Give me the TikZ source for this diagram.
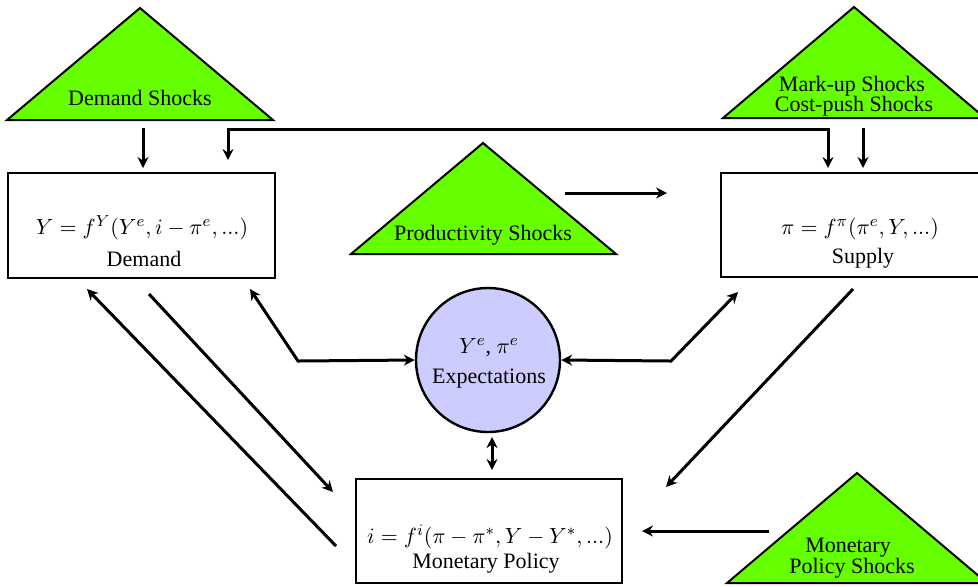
\documentclass[tikz,border=0pt]{standalone}
\usepackage{fontspec}
\setmainfont{Liberation Serif}
\usetikzlibrary{arrows.meta}
\definecolor{shockgreen}{HTML}{66FF00}
\definecolor{expblue}{HTML}{CCCCFF}
\begin{document}
\begin{tikzpicture}[x=0.5pt,y=-0.5pt,
  tri/.style={draw=black, fill=shockgreen, line width=1pt, line join=miter},
  boxnode/.style={draw=black, line width=1.2pt, inner sep=0pt},
  lbl/.style={anchor=base, inner sep=0pt, font=\rmfamily\fontsize{11}{13}\selectfont},
  conn/.style={line width=1.5pt, -{Stealth[length=5.5pt,width=5.5pt,inset=1.8pt]}},
  bconn/.style={line width=1.5pt, {Stealth[length=5.5pt,width=5.5pt,inset=1.8pt]}-{Stealth[length=5.5pt,width=5.5pt,inset=1.8pt]}}]
\useasboundingbox (0,0) rectangle (978,586);
\clip (0,0) rectangle (978,586);

% shock triangles
\draw[tri] (7,120) -- (140,8) -- (273,120) -- cycle;
\draw[tri] (351,254) -- (483,143) -- (616,254) -- cycle;
\draw[tri] (723,118) -- (854,7) -- (985,118) -- cycle;
\draw[tri] (727,583) -- (857,473) -- (987,583) -- cycle;

\node[lbl] (ds) at (140,105) {Demand Shocks};
\node[lbl] (ps) at (483,240) {Productivity Shocks};
\node[lbl] (mu1) at (852,91) {Mark-up Shocks};
\node[lbl] (mu2) at (854,111) {Cost-push Shocks};
\node[lbl] (mp1) at (848,552) {Monetary};
\node[lbl] (mp2) at (852,573) {Policy Shocks};

% boxes
\node[boxnode, minimum width=133.5pt, minimum height=52.5pt] (demand) at (141.5,225.5) {};
\node[boxnode, minimum width=141pt, minimum height=52pt] (supply) at (862,225) {};
\node[boxnode, minimum width=133pt, minimum height=52pt] (policy) at (489,531) {};
\node[draw=black, fill=expblue, circle, line width=1.2pt, minimum size=72pt, inner sep=0pt] (expect) at (488,360) {};

\node[lbl] (dq) at (142,234) {$Y=f^{Y}(Y^{e},i-\pi^{e},...)$};
\node[lbl] (dt) at (144,266) {Demand};
\node[lbl] (sq) at (860,234) {$\pi=f^{\pi}(\pi^{e},Y,...)$};
\node[lbl] (st) at (863,263) {Supply};
\node[lbl] (eq) at (489,353) {$Y^{e}$, $\pi^{e}$};
\node[lbl] (et) at (489,383) {Expectations};
\node[lbl] (pq) at (490,543) {$i=f^{i}(\pi-\pi^{*},Y-Y^{*},...)$};
\node[lbl] (pt) at (486,568) {Monetary Policy};

% connector end points
\coordinate (a1s) at (143,128); \coordinate (a1e) at (143,168);
\coordinate (l1) at (228,160); \coordinate (l2) at (228,129);
\coordinate (l3) at (828,129); \coordinate (l4) at (828,168);
\coordinate (a3s) at (863,128); \coordinate (a3e) at (863,168);
\coordinate (p1) at (565,193); \coordinate (p2) at (667,193);
\coordinate (le1) at (250,289); \coordinate (le2) at (298,361);
\coordinate (ri1) at (671,361); \coordinate (ri2) at (738,292);
\coordinate (c1) at (492,437); \coordinate (c2) at (492,470);
\coordinate (d1) at (336,546); \coordinate (d2) at (87,289);
\coordinate (d3) at (149,294); \coordinate (d4) at (333,492);
\coordinate (s1) at (853,289); \coordinate (s2) at (666,487);
\coordinate (m1) at (769,531); \coordinate (m2) at (642,531);

\draw[conn] (a1s) -- (a1e);
\draw[bconn] (l1) -- (l2) -- (l3) -- (l4);
\draw[conn] (a3s) -- (a3e);
\draw[conn] (p1) -- (p2);
\draw[bconn] (le1) -- (le2) -- (expect.west);
\draw[bconn] (expect.east) -- (ri1) -- (ri2);
\draw[bconn] (c1) -- (c2);
\draw[conn] (d1) -- (d2);
\draw[conn] (d3) -- (d4);
\draw[conn] (s1) -- (s2);
\draw[conn] (m1) -- (m2);
\end{tikzpicture}
\end{document}
